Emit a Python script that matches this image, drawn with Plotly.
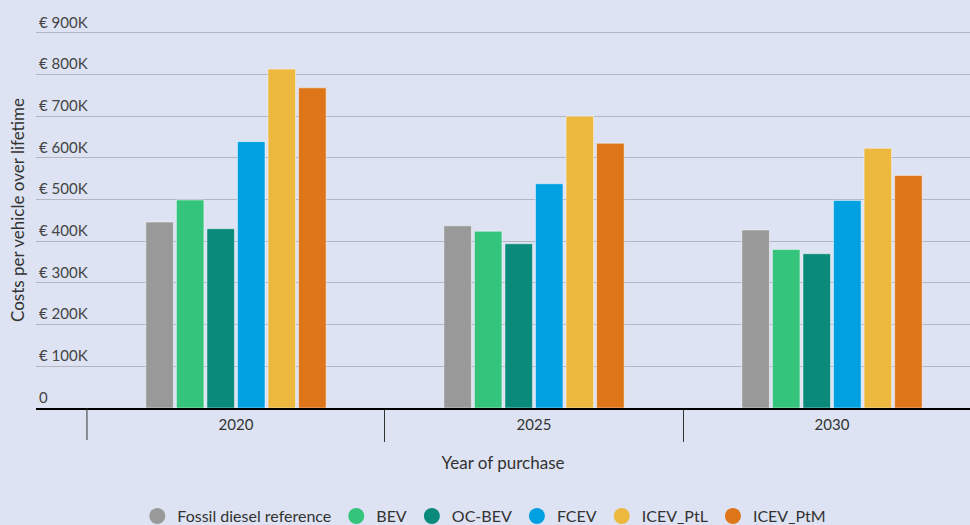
import plotly.graph_objects as go

years = ["2020", "2025", "2030"]
series_names = ["Fossil diesel reference", "BEV", "OC-BEV", "FCEV", "ICEV_PtL", "ICEV_PtM"]
fossil = [446000, 437000, 427000]
bev = [499000, 424000, 380000]
oc_bev = [430000, 394000, 370000]
fcev = [639000, 538000, 498000]
icev_ptl = [813000, 700000, 623000]
icev_ptm = [768000, 635000, 558000]
series_values = [fossil, bev, oc_bev, fcev, icev_ptl, icev_ptm]
colors = ["#999999", "#34c47c", "#0a8a7a", "#00a0e1", "#ecb93e", "#de7519"]
tick_vals = [0, 100000, 200000, 300000, 400000, 500000, 600000, 700000, 800000, 900000]
tick_text = ["0", "€ 100K", "€ 200K", "€ 300K", "€ 400K", "€ 500K", "€ 600K", "€ 700K", "€ 800K", "€ 900K"]

FONT = "Lato"
fig = go.Figure()
for name, vals, c in zip(series_names, series_values, colors):
    fig.add_trace(go.Bar(x=years, y=vals, name=name, marker=dict(color=c, line=dict(color="rgba(255,255,255,0.45)", width=1)),
                         showlegend=False))
for name, c in zip(series_names, colors):
    fig.add_trace(go.Scatter(x=[None], y=[None], mode="markers", name=name,
                             marker=dict(color=c, size=16, symbol="circle")))

PLOT_H = 525 - 12 - 117
# boundary tick left of the first category (Plotly omits the outermost boundary tick)
fig.add_shape(type="line", xref="x", yref="paper", x0=-0.5, x1=-0.5, y0=0, y1=-32 / PLOT_H,
              line=dict(color="#333333", width=1))

fig.update_layout(
    width=970, height=525,
    paper_bgcolor="#dde3f2", plot_bgcolor="#dde3f2",
    margin=dict(l=36, r=0, t=12, b=117, autoexpand=False),
    barmode="group", bargap=0.385, bargroupgap=0.1,
    font=dict(family=FONT, size=15, color="#333333"),
    legend=dict(orientation="h", x=0.48, xanchor="center", yref="container", y=0.017, yanchor="middle",
                font=dict(size=16, color="#333333"), itemsizing="trace"),
    xaxis=dict(type="category", range=[-0.671, 2.463], tickson="boundaries", ticks="outside", ticklen=32,
               tickcolor="#333333", tickwidth=1, showline=True, linecolor="#000000", linewidth=2,
               showgrid=False, ticklabelstandoff=2, automargin=False,
               title=dict(text="Year of purchase", standoff=25, font=dict(size=17, color="#333333"))),
    yaxis=dict(range=[0, 950000], tickvals=tick_vals, ticktext=tick_text, ticklabelposition="inside top",
               showgrid=True, gridcolor="#b3b7c4", gridwidth=1, zeroline=False, showline=False, automargin=False,
               title=dict(text="Costs per vehicle over lifetime", standoff=10, font=dict(size=17, color="#333333"))),
)
fig.write_html("out.html", config={"displayModeBar": False},
               post_script="document.body.style.margin='0';document.body.style.background='#dde3f2';")
